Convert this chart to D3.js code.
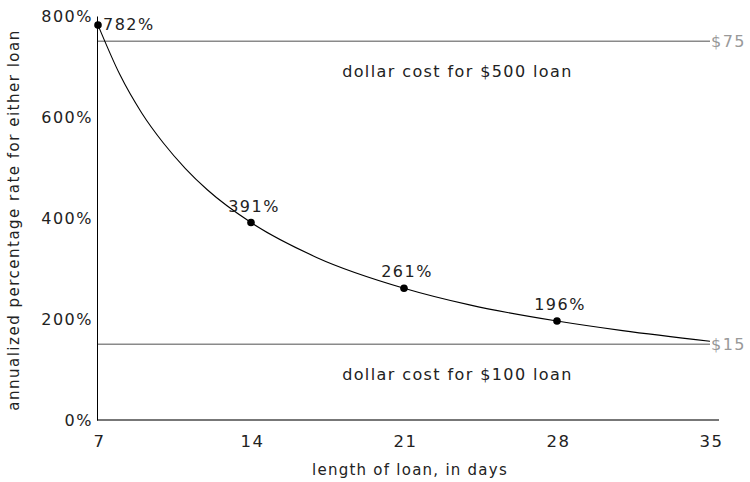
<!DOCTYPE html>
<html>
<head>
<meta charset="utf-8">
<script src="https://cdn.jsdelivr.net/npm/d3@7"></script>
<style>
  html, body { margin: 0; padding: 0; background: #fff; }
  svg text { font-family: "DejaVu Sans", sans-serif; fill: #222; }
</style>
</head>
<body>
<svg id="chart" width="750" height="482"></svg>
<script>
// ---- data ----
const days = [7, 8, 9, 10, 11, 12, 14, 17, 21, 24, 28, 31, 35];
const apr  = [782, 684, 608, 548, 498, 456, 391, 322, 261, 228, 196, 177, 156];
const markedDays = [7, 14, 21, 28];
const markedApr  = [782, 391, 261, 196];
const markedLabels = ["782%", "391%", "261%", "196%"];
const xTicks = [7, 14, 21, 28, 35];
const yTicks = [0, 200, 400, 600, 800];
const costLevels = [750, 150];           // APR level where the dollar-cost line is drawn
const costLabels = ["$75", "$15"];
const costTexts  = ["dollar cost for $500 loan", "dollar cost for $100 loan"];
const costTextDay = 23.4;

const svg = d3.select("#chart");
const x = d3.scaleLinear().domain([7, 35]).range([98, 710]);
const y = d3.scaleLinear().domain([0, 800]).range([420, 16]);

// dollar cost reference lines
costLevels.forEach((v, i) => {
  svg.append("line")
    .attr("x1", x(7)).attr("x2", x(35))
    .attr("y1", y(v)).attr("y2", y(v))
    .attr("stroke", "#8a8a8a").attr("stroke-width", 1.5);
  svg.append("text")
    .attr("x", x(35) + 1).attr("y", y(v) + 6)
    .attr("font-size", 16).attr("letter-spacing", 1.5).style("fill", "#999")
    .text(costLabels[i]);
  svg.append("text")
    .attr("x", x(costTextDay) + 1).attr("y", y(v) + 36)
    .attr("text-anchor", "middle").attr("font-size", 16).attr("letter-spacing", 1.4)
    .text(costTexts[i]);
});

// x axis (gray baseline)
svg.append("line")
  .attr("x1", x(7) - 1).attr("x2", x(35) + 9)
  .attr("y1", y(0)).attr("y2", y(0))
  .attr("stroke", "#777").attr("stroke-width", 2);

const xAxis = svg.append("g")
  .attr("transform", `translate(0,${y(0)})`)
  .call(d3.axisBottom(x).tickValues(xTicks).tickSize(0).tickPadding(15));
xAxis.select(".domain").remove();
xAxis.selectAll("text").attr("font-size", 16.5).attr("letter-spacing", 1.5)
  .attr("dx", 1).style("font-family", "DejaVu Sans").style("fill", "#222");

// y axis
const yAxis = svg.append("g")
  .attr("transform", `translate(${x(7) - 1},0)`)
  .call(d3.axisLeft(y).tickValues(yTicks).tickFormat(d => d + "%").tickSize(0).tickPadding(4));
yAxis.select(".domain").attr("stroke", "#000");
yAxis.selectAll("text").attr("font-size", 16).attr("letter-spacing", 1.5)
  .style("font-family", "DejaVu Sans").style("fill", "#222");

// axis titles
svg.append("text")
  .attr("x", (x(7) + x(35)) / 2 + 6).attr("y", 475)
  .attr("text-anchor", "middle").attr("font-size", 15).attr("letter-spacing", 1.25)
  .text("length of loan, in days");
svg.append("text")
  .attr("transform", `translate(19,${(y(0) + y(800)) / 2 + 2}) rotate(-90)`)
  .attr("text-anchor", "middle").attr("font-size", 15).attr("letter-spacing", 1.5)
  .text("annualized percentage rate for either loan");

// curve
const pts = days.map((d, i) => [d, apr[i]]);
svg.append("path")
  .datum(pts)
  .attr("fill", "none").attr("stroke", "#000").attr("stroke-width", 1.1)
  .attr("d", d3.line().x(d => x(d[0])).y(d => y(d[1])).curve(d3.curveMonotoneX));

// markers
markedDays.forEach((d, i) => {
  svg.append("circle")
    .attr("cx", x(d)).attr("cy", y(markedApr[i])).attr("r", 3.8).attr("fill", "#000");
  const t = svg.append("text").attr("font-size", 16).attr("letter-spacing", 1.5).text(markedLabels[i]);
  if (i === 0) {
    t.attr("x", x(d) + 5).attr("y", y(markedApr[i]) + 5);
  } else {
    t.attr("x", x(d) + 3).attr("y", y(markedApr[i]) - 11).attr("text-anchor", "middle");
  }
});
</script>
</body>
</html>
